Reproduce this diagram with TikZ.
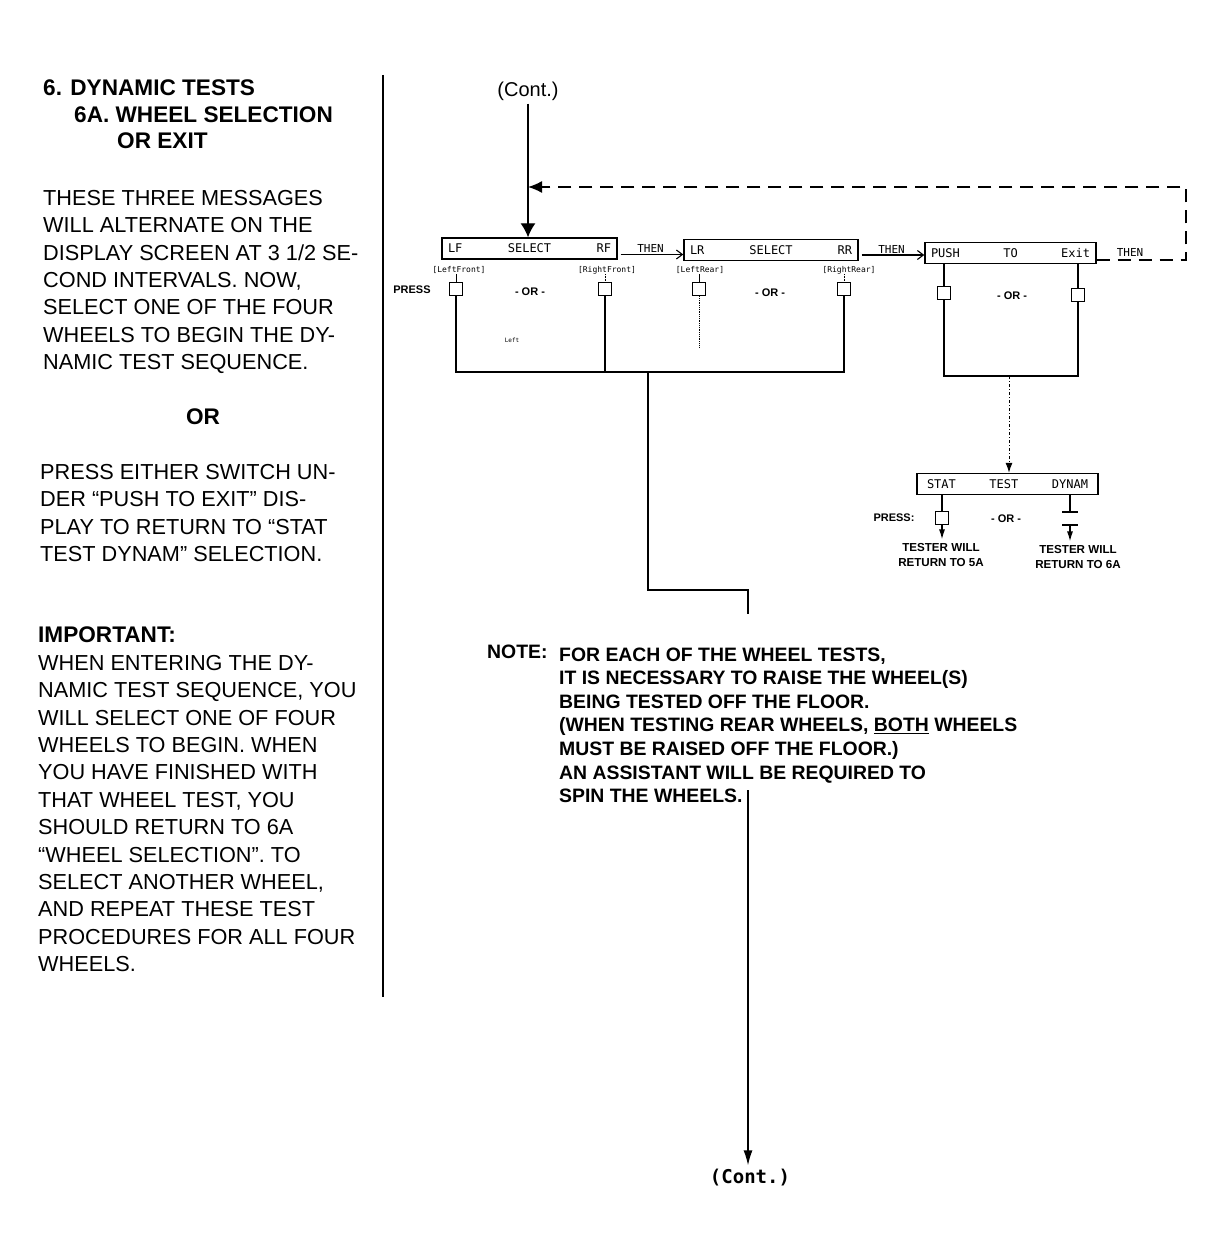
\documentclass[tikz,border=0pt]{standalone}
\usepackage{fontspec}
\setmainfont{Liberation Sans}
\newfontfamily\dotfont{DejaVu Sans Mono}
\usepackage{tikz}
\usetikzlibrary{arrows.meta,positioning,calc}
\tikzset{
  disp/.style={rectangle, draw, line width=1.4pt, inner ysep=0pt, inner xsep=6pt, minimum height=21pt,
               text width=#1, font=\dotfont\fontsize{12}{12}\selectfont},
  btn/.style={rectangle, draw, line width=1.3pt, minimum width=13pt, minimum height=13pt, inner sep=0pt},
  tag/.style={inner sep=0pt, font=\dotfont\fontsize{8}{8}\selectfont},
  press/.style={inner sep=0pt, font=\bfseries\fontsize{11}{11}\selectfont},
  back5a/.style={inner sep=0pt, align=center, font=\bfseries\fontsize{11.6}{14.5}\selectfont},
  wire/.style={line width=1.3pt},
  thenarr/.style={line width=1.1pt, shorten <=3pt, -{Straight Barb[length=6pt,width=9pt]}},
  thenlbl/.style={inner sep=1pt, font=\dotfont\fontsize{11}{11}\selectfont},
  loopback/.style={line width=1.4pt, dash pattern=on 13pt off 8pt, -{Latex[length=14pt,width=12pt]}},
  body/.style={anchor=base west, inner sep=0pt, font=\fontsize{21.7}{26}\selectfont},
  head/.style={anchor=base west, inner sep=0pt, font=\bfseries\fontsize{22.6}{26}\selectfont},
  note/.style={anchor=base west, inner sep=0pt, font=\bfseries\fontsize{19.4}{23}\selectfont},
}

\begin{document}
\begin{tikzpicture}[x=1pt, y=-1pt]
  \useasboundingbox (0,0) rectangle (1224,1260);

  % left column
  \node[head] (t1) at (43,96) {6. DYNAMIC TESTS};
  \node[head] (t2) at (74,123) {6A. WHEEL SELECTION};
  \node[head] (t3) at (117,149) {OR EXIT};
  \foreach \txt [count=\i from 0] in {{THESE THREE MESSAGES}, {WILL ALTERNATE ON THE},
      {DISPLAY SCREEN AT 3 1/2 SE-}, {COND INTERVALS. NOW,}, {SELECT ONE OF THE FOUR},
      {WHEELS TO BEGIN THE DY-}, {NAMIC TEST SEQUENCE.}}
    \node[body] (pa\i) at (43,205.5+27.3*\i) {\txt};
  \node[head, anchor=base] (orw) at (203,424) {OR};
  \foreach \txt [count=\i from 0] in {{PRESS EITHER SWITCH UN-}, {DER ``PUSH TO EXIT'' DIS-},
      {PLAY TO RETURN TO ``STAT}, {TEST DYNAM'' SELECTION.}}
    \node[body] (pb\i) at (40,479.5+27.3*\i) {\txt};
  \node[head] (imp) at (38,642) {IMPORTANT:};
  \foreach \txt [count=\i from 0] in {{WHEN ENTERING THE DY-}, {NAMIC TEST SEQUENCE, YOU},
      {WILL SELECT ONE OF FOUR}, {WHEELS TO BEGIN. WHEN}, {YOU HAVE FINISHED WITH},
      {THAT WHEEL TEST, YOU}, {SHOULD RETURN TO 6A}, {``WHEEL SELECTION''. TO},
      {SELECT ANOTHER WHEEL,}, {AND REPEAT THESE TEST}, {PROCEDURES FOR ALL FOUR}, {WHEELS.}}
    \node[body] (pc\i) at (38,670.5+27.37*\i) {\txt};
  \draw[line width=1.4pt] (383,75) -- (383,997);

  % displays
  \node[inner sep=3pt, font=\fontsize{20}{20}\selectfont] (conttop) at (528,91) {(Cont.)};
  \node[disp=163pt] (lfrf) at (529.5,248.5) {LF\hfill SELECT\hfill RF};
  \node[disp=162pt] (lrrr) at (771,250) {LR\hfill SELECT\hfill RR};
  \node[disp=159pt] (pushexit) at (1010.5,253) {PUSH\hfill TO\hfill Exit};
  \node[disp=161pt, inner xsep=10pt] (stat) at (1007.5,484) {STAT\hfill TEST\hfill DYNAM};

  \node[tag] (lflbl) at (459,270) {[LeftFront]};
  \node[tag] (rflbl) at (607,270) {[RightFront]};
  \node[tag] (lrlbl) at (700,270) {[LeftRear]};
  \node[tag] (rrlbl) at (849,270) {[RightRear]};

  \node[press] (press1) at (412,290) {PRESS};
  \node[btn] (lfb) at (456,289) {};
  \node[btn] (rfb) at (605,289) {};
  \node[btn] (lrb) at (699,289) {};
  \node[btn] (rrb) at (844,289) {};
  \node[press] (or1) at (530,292) {- OR -};
  \node[press] (or2) at (770,293) {- OR -};
  \node[tag, font=\dotfont\fontsize{6}{6}\selectfont] (stray) at (512,340) {Left};

  \node[btn] (pb) at (944,293) {};
  \node[btn] (eb) at (1078,295) {};
  \node[press] (or3) at (1012,296) {- OR -};

  \node[press] (press2) at (894,518) {PRESS:};
  \node[btn] (sb) at (942,518) {};
  \node[press] (or4) at (1006,519) {- OR -};
  \node[back5a] (ret5) at (941,555) {TESTER WILL\\RETURN TO 5A};
  \node[back5a] (ret6) at (1078,557) {TESTER WILL\\RETURN TO 6A};

  % note
  \node[note] (notelbl) at (487,658) {NOTE:};
  \foreach \txt [count=\i from 0] in {{FOR EACH OF THE WHEEL TESTS,}, {IT IS NECESSARY TO RAISE THE WHEEL(S)},
      {BEING TESTED OFF THE FLOOR.}, {(WHEN TESTING REAR WHEELS, \underline{BOTH} WHEELS},
      {MUST BE RAISED OFF THE FLOOR.)}, {AN ASSISTANT WILL BE REQUIRED TO}, {SPIN THE WHEELS.}}
    \node[note] (nl\i) at (559,661+23.6*\i) {\txt};
  \node[inner sep=0pt, font=\dotfont\bfseries\fontsize{19}{19}\selectfont] (contbot) at (750,1178) {(Cont.)};

  % connectors
  \coordinate (ret) at (528,187);
  \coordinate (rc1) at (1186,260);
  \coordinate (rc2) at (1186,187);
  \draw[wire, -{Latex[length=14pt,width=15pt]}] (conttop.south) -- (conttop.south |- lfrf.north);
  \draw[thenarr] ([yshift=-6pt]lfrf.east) -- ([yshift=-6pt]lfrf.east -| lrrr.west)
    node[thenlbl, midway, above] {THEN};
  \draw[thenarr] ([yshift=-5pt]lrrr.east) -- ([yshift=-5pt]lrrr.east -| pushexit.west)
    node[thenlbl, midway, above] {THEN};
  \draw[loopback] ([yshift=-7pt]pushexit.east) -- (rc1) -- (rc2) -- (ret);
  \node[thenlbl] (then3) at (1130,252) {THEN};

  \draw[line width=0.6pt] (lflbl.south -| lfb) -- (lfb.north);
  \draw[line width=0.6pt, densely dotted] (rflbl.south -| rfb) -- (rfb.north);
  \draw[line width=0.6pt] (lrlbl.south -| lrb) -- (lrb.north);
  \draw[line width=0.6pt, densely dotted] (rrlbl.south -| rrb) -- (rrb.north);

  \coordinate (bus) at (648,372);
  \coordinate (lrend) at (699,347);
  \draw[wire] (lfb.south) |- (bus) -- (rrb |- bus) -- (rrb.south);
  \draw[wire] (rfb.south) -- (rfb |- bus);
  \draw[line width=0.8pt, densely dotted] (lrb.south) -- (lrend);

  \coordinate (jog) at (648,590);
  \coordinate (notetop) at (748,614);
  \coordinate (noteend) at (748,790);
  \draw[wire] (bus) -- (jog) -| (notetop);
  \draw[wire, shorten >=4pt, -{Latex[length=15pt,width=9pt]}] (noteend) -- (noteend |- contbot.north);

  \coordinate (bus2) at (1009,376);
  \draw[wire] (pushexit.south -| pb) -- (pb.north);
  \draw[wire] (pushexit.south -| eb) -- (eb.north);
  \draw[wire] (pb.south) |- (bus2) -- (eb |- bus2) -- (eb.south);
  \draw[line width=1pt, dash dot, -{Latex[length=10pt,width=7pt]}] (bus2) -- (bus2 |- stat.north);

  \coordinate (bar1) at (1070,512);
  \coordinate (bar2) at (1070,525);
  \draw[wire] (stat.south -| sb) -- (sb.north);
  \draw[wire, shorten >=4pt, -{Latex[length=10pt,width=6pt]}] (sb.south) -- (sb |- ret5.north);
  \draw[wire] (stat.south -| bar1) -- (bar1);
  \draw[wire] ([xshift=-8pt]bar1) -- ([xshift=8pt]bar1);
  \draw[wire] ([xshift=-8pt]bar2) -- ([xshift=8pt]bar2);
  \draw[wire, shorten >=4pt, -{Latex[length=10pt,width=6pt]}] (bar2) -- (bar2 |- ret6.north);
\end{tikzpicture}
\end{document}
